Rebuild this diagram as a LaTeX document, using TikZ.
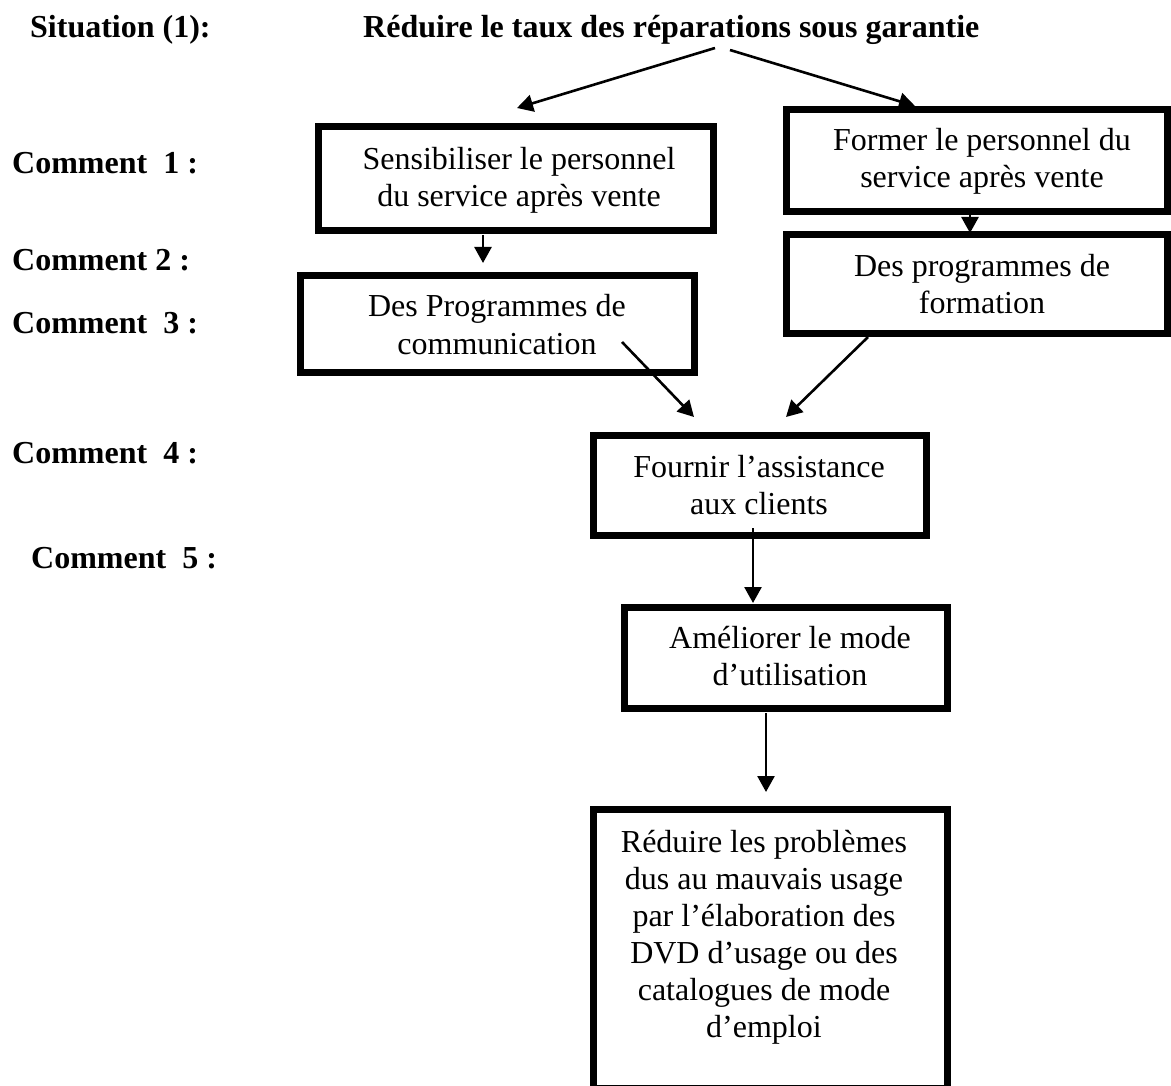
\documentclass[tikz,border=0pt]{standalone}
\usepackage{fontspec}
\setmainfont{Liberation Serif}
\usetikzlibrary{arrows.meta}

\begin{document}
\begin{tikzpicture}[x=1pt,y=-1pt,
  txt/.style={inner sep=0pt, font=\fontsize{32}{37}\selectfont, anchor=base},
  lbl/.style={inner sep=0pt, font=\fontsize{32}{37}\selectfont\bfseries, anchor=base west},
  stepbox/.style={draw=black, line width=7pt, inner sep=0pt, rectangle},
  link/.style={line width=2.6pt, -{Triangle[length=16pt,width=17pt]}}
]
\useasboundingbox (0,0) rectangle (1171,1086);

% headings
\node[lbl] (sit) at (30,37.5) {Situation (1):};
\node[lbl] (goal) at (363,37.5) {Réduire le taux des réparations sous garantie};

% row labels
\node[lbl] (c1) at (12,174) {Comment~~1 :};
\node[lbl] (c2) at (12,271) {Comment 2 :};
\node[lbl] (c3) at (12,334) {Comment~~3 :};
\node[lbl] (c4) at (12,463) {Comment~~4 :};
\node[lbl] (c5) at (31,568) {Comment~~5 :};

% frames
\node[stepbox, minimum width=394.5pt, minimum height=104pt]   (b1) at (515.75,179) {};
\node[stepbox, minimum width=381.5pt, minimum height=102pt]   (b2) at (976.75,160.5) {};
\node[stepbox, minimum width=394.5pt, minimum height=97pt]    (b3) at (497.25,324) {};
\node[stepbox, minimum width=381.5pt, minimum height=98.5pt]  (b4) at (976.75,284.25) {};
\node[stepbox, minimum width=333.5pt, minimum height=100pt]   (b5) at (759.75,485.5) {};
\node[stepbox, minimum width=323.5pt, minimum height=101pt]   (b6) at (785.75,657.5) {};
\node[stepbox, minimum width=354pt,   minimum height=278.5pt] (b7) at (770,948.75) {};

% frame texts
\node[txt] (t1) at (519,169.3) {\begin{tabular}[t]{@{}c@{}}Sensibiliser le personnel\\du service après vente\end{tabular}};
\node[txt] (t2) at (982,151) {\begin{tabular}[t]{@{}c@{}}Former le personnel du\\service après vente\end{tabular}};
\node[txt] (t3) at (497,317) {\begin{tabular}[t]{@{}c@{}}Des Programmes de\\communication\end{tabular}};
\node[txt] (t4) at (982,277) {\begin{tabular}[t]{@{}c@{}}Des programmes de\\formation\end{tabular}};
\node[txt] (t5) at (759,477) {\begin{tabular}[t]{@{}c@{}}Fournir l’assistance\\aux clients\end{tabular}};
\node[txt] (t6) at (790,648) {\begin{tabular}[t]{@{}c@{}}Améliorer le mode\\d’utilisation\end{tabular}};
\node[txt] (t7) at (764,852) {\begin{tabular}[t]{@{}c@{}}Réduire les problèmes\\dus au mauvais usage\\par l’élaboration des\\DVD d’usage ou des\\catalogues de mode\\d’emploi\end{tabular}};

% connector ends
\coordinate (g1) at (715,48);   \coordinate (e1) at (517,108);
\coordinate (g2) at (730,50);   \coordinate (e2) at (915,106);
\coordinate (s3) at (483,235);  \coordinate (e3) at (483,263);
\coordinate (s4) at (970,215);  \coordinate (e4) at (970,233);
\coordinate (s5) at (622,342);  \coordinate (e5) at (694,417);
\coordinate (s6) at (868,337);  \coordinate (e6) at (786,417);
\coordinate (s7) at (753,528);  \coordinate (e7) at (753,603);
\coordinate (s8) at (766,713);  \coordinate (e8) at (766,792);

% connectors
\draw[link] (g1) -- (e1);
\draw[link] (g2) -- (e2);
\draw[link] (s3) -- (e3);
\draw[link] (s4) -- (e4);
\draw[link] (s5) -- (e5);
\draw[link] (s6) -- (e6);
\draw[link] (s7) -- (e7);
\draw[link] (s8) -- (e8);
\end{tikzpicture}
\end{document}
